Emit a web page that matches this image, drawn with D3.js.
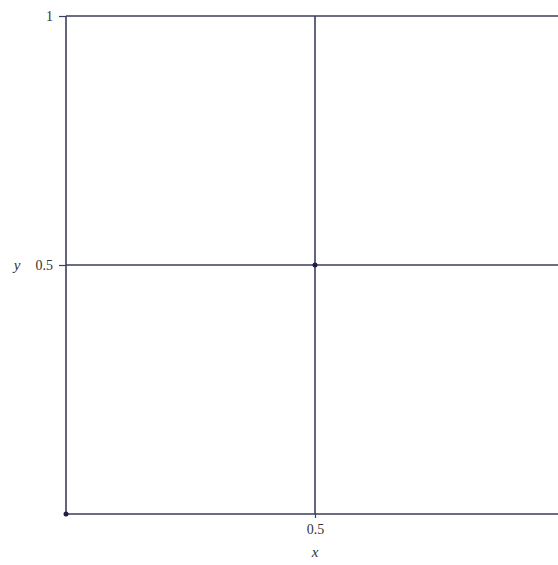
<!DOCTYPE html>
<html>
<head>
<meta charset="utf-8">
<script src="https://cdn.jsdelivr.net/npm/d3@7"></script>
<style>
  html, body { margin: 0; padding: 0; background: #fff; }
  svg { display: block; }
  text { font-family: "Liberation Serif", "DejaVu Serif", serif; fill: #333; }
</style>
</head>
<body>
<svg id="chart" width="558" height="565"></svg>
<script>
// Axis ranges and tick labels
const xDomain = [0, 1];
const yDomain = [0, 1];
const xTicks = [0.5, 1];
const yTicks = [0.5, 1];

// Boundary of the unit square and the two mid lines
const segX1 = [0, 0, 0, 1, 0.5, 0];
const segY1 = [0, 1, 0, 0, 0, 0.5];
const segX2 = [1, 1, 0, 1, 0.5, 1];
const segY2 = [0, 1, 1, 1, 1, 0.5];

// Marked points
const ptX = [0.5, 0];
const ptY = [0.5, 0];

const svg = d3.select("#chart");
const plotLeft = 66, plotTop = 16, plotW = 498, plotH = 498;

const x = d3.scaleLinear().domain(xDomain).range([plotLeft, plotLeft + plotW]);
const y = d3.scaleLinear().domain(yDomain).range([plotTop + plotH, plotTop]);

const lineColor = "#3b3d5c";
const serif = '"Liberation Serif", "DejaVu Serif", serif';

// Axes (left and bottom)
const xAxis = d3.axisBottom(x).tickValues(xTicks).tickSize(4).tickFormat(d3.format("~g"));
const yAxis = d3.axisLeft(y).tickValues(yTicks).tickSize(7).tickFormat(d3.format("~g"));

const gx = svg.append("g").attr("transform", `translate(0,${y(0)})`).call(xAxis);
const gy = svg.append("g").attr("transform", `translate(${x(0)},0)`).call(yAxis);
[gx, gy].forEach(g => {
  g.attr("font-family", serif).attr("font-size", 14);
  g.select(".domain").remove();
  g.selectAll(".tick line").attr("stroke", lineColor).attr("stroke-width", 1.2);
  g.selectAll(".tick text")
    .attr("font-family", serif)
    .attr("font-size", 14)
    .attr("fill", "#3a3a3a");
});
gx.selectAll(".tick text").attr("y", 10).attr("dy", "0.71em");
gy.selectAll(".tick text").attr("x", -13);

// Segments
const segs = segX1.map((d, i) => ({ x1: d, y1: segY1[i], x2: segX2[i], y2: segY2[i] }));
svg.append("g").selectAll("line").data(segs).join("line")
  .attr("x1", d => x(d.x1)).attr("y1", d => y(d.y1))
  .attr("x2", d => x(d.x2)).attr("y2", d => y(d.y2))
  .attr("stroke", lineColor)
  .attr("stroke-width", 1.6);

// Points
svg.append("g").selectAll("circle").data(ptX.map((d, i) => [d, ptY[i]])).join("circle")
  .attr("cx", d => x(d[0])).attr("cy", d => y(d[1]))
  .attr("r", 2.5)
  .attr("fill", "#1f2040");

// Axis titles
svg.append("text")
  .attr("x", x(0.5)).attr("y", 557)
  .attr("text-anchor", "middle")
  .attr("font-family", serif)
  .attr("font-style", "italic").attr("font-size", 15)
  .attr("fill", "#3a3a3a")
  .text("x");
svg.append("text")
  .attr("x", 17).attr("y", y(0.5) + 5)
  .attr("text-anchor", "middle")
  .attr("font-family", serif)
  .attr("font-style", "italic").attr("font-size", 15)
  .attr("fill", "#3a3a3a")
  .text("y");
</script>
</body>
</html>
